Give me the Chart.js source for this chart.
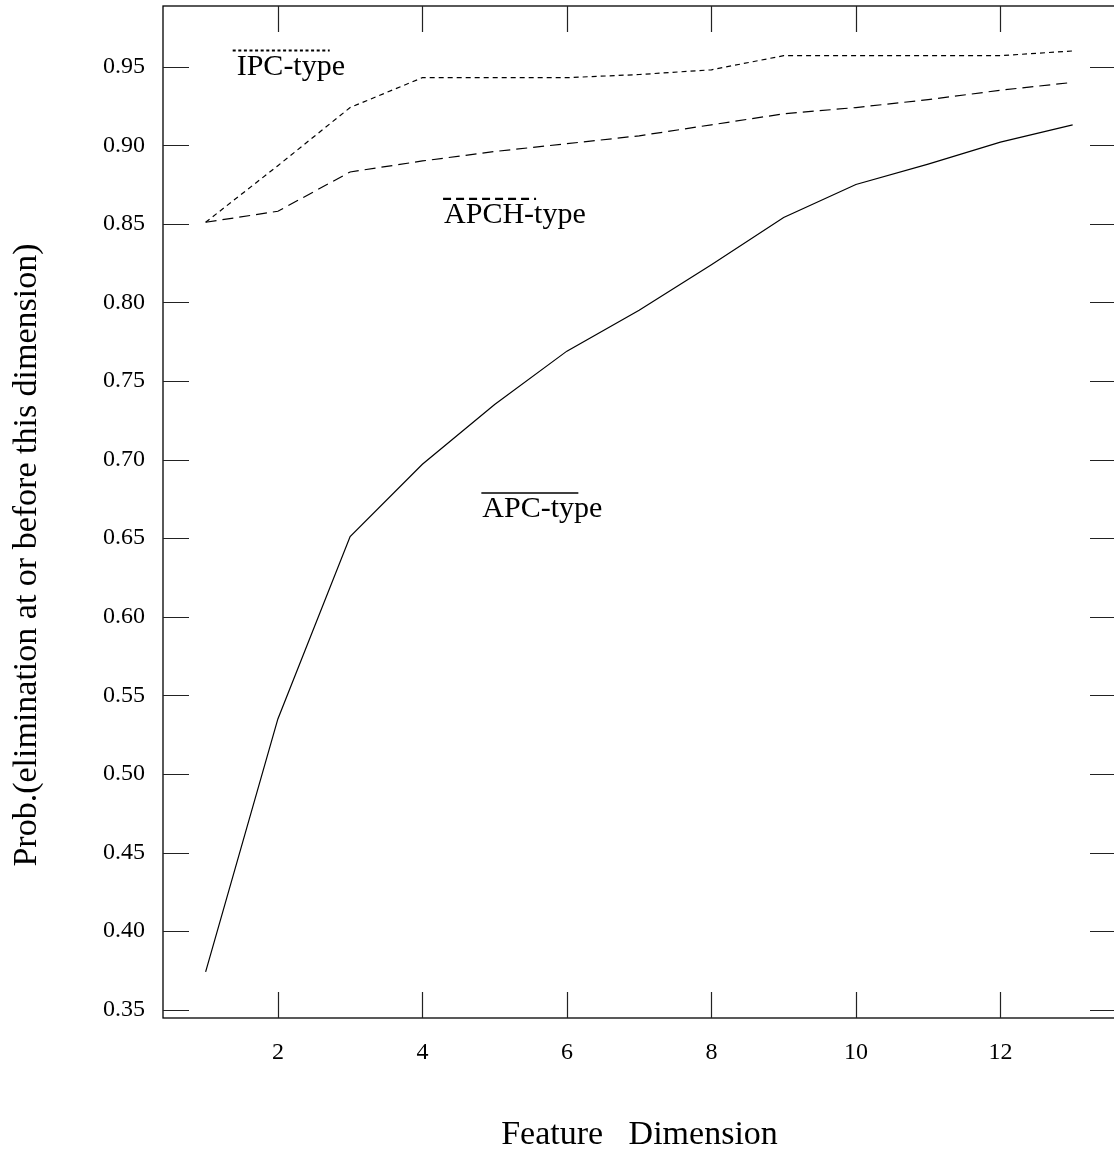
<!DOCTYPE html>
<html>
<head>
<meta charset="utf-8">
<script src="https://cdn.jsdelivr.net/npm/chart.js@4.4.1/dist/chart.umd.min.js"></script>
<style>
  html, body { margin: 0; padding: 0; background: #fff; overflow: hidden; }
  #wrap { width: 1114px; height: 1152px; overflow: hidden; }
</style>
</head>
<body>
<div id="wrap"><canvas id="elimChart" width="1118" height="1152"></canvas></div>
<script>
// feature dimension on the x axis
const dims = [1, 2, 3, 4, 5, 6, 7, 8, 9, 10, 11, 12, 13];

// probability of elimination at or before each dimension
const ipcType  = [0.851, 0.887, 0.924, 0.943, 0.943, 0.943, 0.945, 0.948, 0.957, 0.957, 0.957, 0.957, 0.960];
const apchType = [0.851, 0.858, 0.883, 0.890, 0.896, 0.901, 0.906, 0.913, 0.920, 0.924, 0.929, 0.935, 0.940];
const apcType  = [0.374, 0.535, 0.651, 0.697, 0.735, 0.769, 0.795, 0.824, 0.854, 0.875, 0.888, 0.902, 0.913];

// tick positions
const xTicks = [2, 4, 6, 8, 10, 12];
const yTicks = [0.35, 0.40, 0.45, 0.50, 0.55, 0.60, 0.65, 0.70, 0.75, 0.80, 0.85, 0.90, 0.95];

const serif = "'Liberation Serif', 'DejaVu Serif', serif";

function toPoints(values) {
    return dims.map((d, i) => ({ x: d, y: values[i] }));
}

// curve labels with an overline drawn in the curve's line style
const curveLabels = [
    { text: 'IPC-type',  x: 1.43, y: 0.945, lineWidth: 2.2, dash: [3, 2.6], barStart: -4, barWidth: 97 },
    { text: 'APCH-type', x: 4.30, y: 0.8506, lineWidth: 2.2, dash: [8, 5],  barStart: -1, barWidth: 93 },
    { text: 'APC-type',  x: 4.83, y: 0.6635, lineWidth: 1.6, dash: [],      barStart: -1, barWidth: 97 }
];

// box around the plot with inward ticks on all four sides
const framePlugin = {
    id: 'frame',
    afterDraw(chart) {
        const { ctx, chartArea: a, scales: { x, y } } = chart;
        const tick = 26;
        ctx.save();
        ctx.strokeStyle = '#000';
        ctx.lineWidth = 1.3;
        ctx.strokeRect(a.left, a.top, a.right - a.left, a.bottom - a.top);

        ctx.strokeStyle = '#222';
        ctx.lineWidth = 1.2;
        ctx.beginPath();
        x.ticks.forEach(t => {
            const px = Math.round(x.getPixelForValue(t.value)) + 0.5;
            ctx.moveTo(px, a.top);
            ctx.lineTo(px, a.top + tick);
            ctx.moveTo(px, a.bottom);
            ctx.lineTo(px, a.bottom - tick);
        });
        y.ticks.forEach(t => {
            const py = Math.round(y.getPixelForValue(t.value)) + 0.5;
            ctx.moveTo(a.left, py);
            ctx.lineTo(a.left + tick, py);
            ctx.moveTo(a.right, py);
            ctx.lineTo(a.right - tick, py);
        });
        ctx.stroke();
        ctx.restore();
    }
};

// axis titles and curve labels
const textPlugin = {
    id: 'texts',
    afterDraw(chart) {
        const { ctx, chartArea: a, scales: { x, y } } = chart;
        ctx.save();
        ctx.fillStyle = '#000';

        ctx.font = '34px ' + serif;
        ctx.textAlign = 'center';
        ctx.textBaseline = 'alphabetic';
        ctx.fillText('Feature   Dimension', (a.left + a.right) / 2, 1144);

        ctx.save();
        ctx.translate(27, 555);
        ctx.rotate(-Math.PI / 2);
        ctx.textBaseline = 'middle';
        ctx.fillText('Prob.(elimination at or before this dimension)', 0, 0);
        ctx.restore();

        ctx.font = '30px ' + serif;
        ctx.textAlign = 'left';
        ctx.textBaseline = 'alphabetic';
        curveLabels.forEach(l => {
            const px = x.getPixelForValue(l.x);
            const py = y.getPixelForValue(l.y);
            ctx.fillText(l.text, px, py);
            ctx.beginPath();
            ctx.lineWidth = l.lineWidth;
            ctx.setLineDash(l.dash);
            ctx.moveTo(px + l.barStart, py - 24);
            ctx.lineTo(px + l.barStart + l.barWidth, py - 24);
            ctx.stroke();
        });
        ctx.setLineDash([]);
        ctx.restore();
    }
};

const lineStyle = { borderColor: '#000', borderWidth: 1.2, pointRadius: 0, tension: 0, fill: false };

// fixed axis boxes, no extra room for edge labels
function fixBox(size, key) {
    return s => {
        s[key] = size;
        s.paddingTop = 0;
        s.paddingBottom = 0;
        s.paddingLeft = 0;
        s.paddingRight = 0;
    };
}

new Chart(document.getElementById('elimChart'), {
    type: 'line',
    data: {
        datasets: [
            { label: 'IPC-type',  data: toPoints(ipcType),  borderDash: [5, 4],  ...lineStyle },
            { label: 'APCH-type', data: toPoints(apchType), borderDash: [11, 6], ...lineStyle },
            { label: 'APC-type',  data: toPoints(apcType),  ...lineStyle }
        ]
    },
    options: {
        responsive: false,
        animation: false,
        layout: { padding: { left: 0, top: 6, right: 2, bottom: 0 } },
        plugins: {
            legend: { display: false },
            tooltip: { enabled: false }
        },
        scales: {
            x: {
                type: 'linear',
                min: 0.41,
                max: 13.6,
                afterBuildTicks: s => { s.ticks = xTicks.map(v => ({ value: v })); },
                afterFit: fixBox(134, 'height'),
                grid: { display: false, drawTicks: false },
                border: { display: false },
                ticks: {
                    padding: 20,
                    maxRotation: 0,
                    color: '#000',
                    font: { family: serif, size: 24 },
                    callback: v => String(v)
                }
            },
            y: {
                type: 'linear',
                min: 0.3447,
                max: 0.9886,
                afterBuildTicks: s => { s.ticks = yTicks.map(v => ({ value: v })); },
                afterFit: fixBox(163, 'width'),
                grid: { display: false, drawTicks: false },
                border: { display: false },
                ticks: {
                    padding: 18,
                    color: '#000',
                    font: { family: serif, size: 24 },
                    callback: v => v.toFixed(2)
                }
            }
        }
    },
    plugins: [framePlugin, textPlugin]
});
</script>
</body>
</html>
